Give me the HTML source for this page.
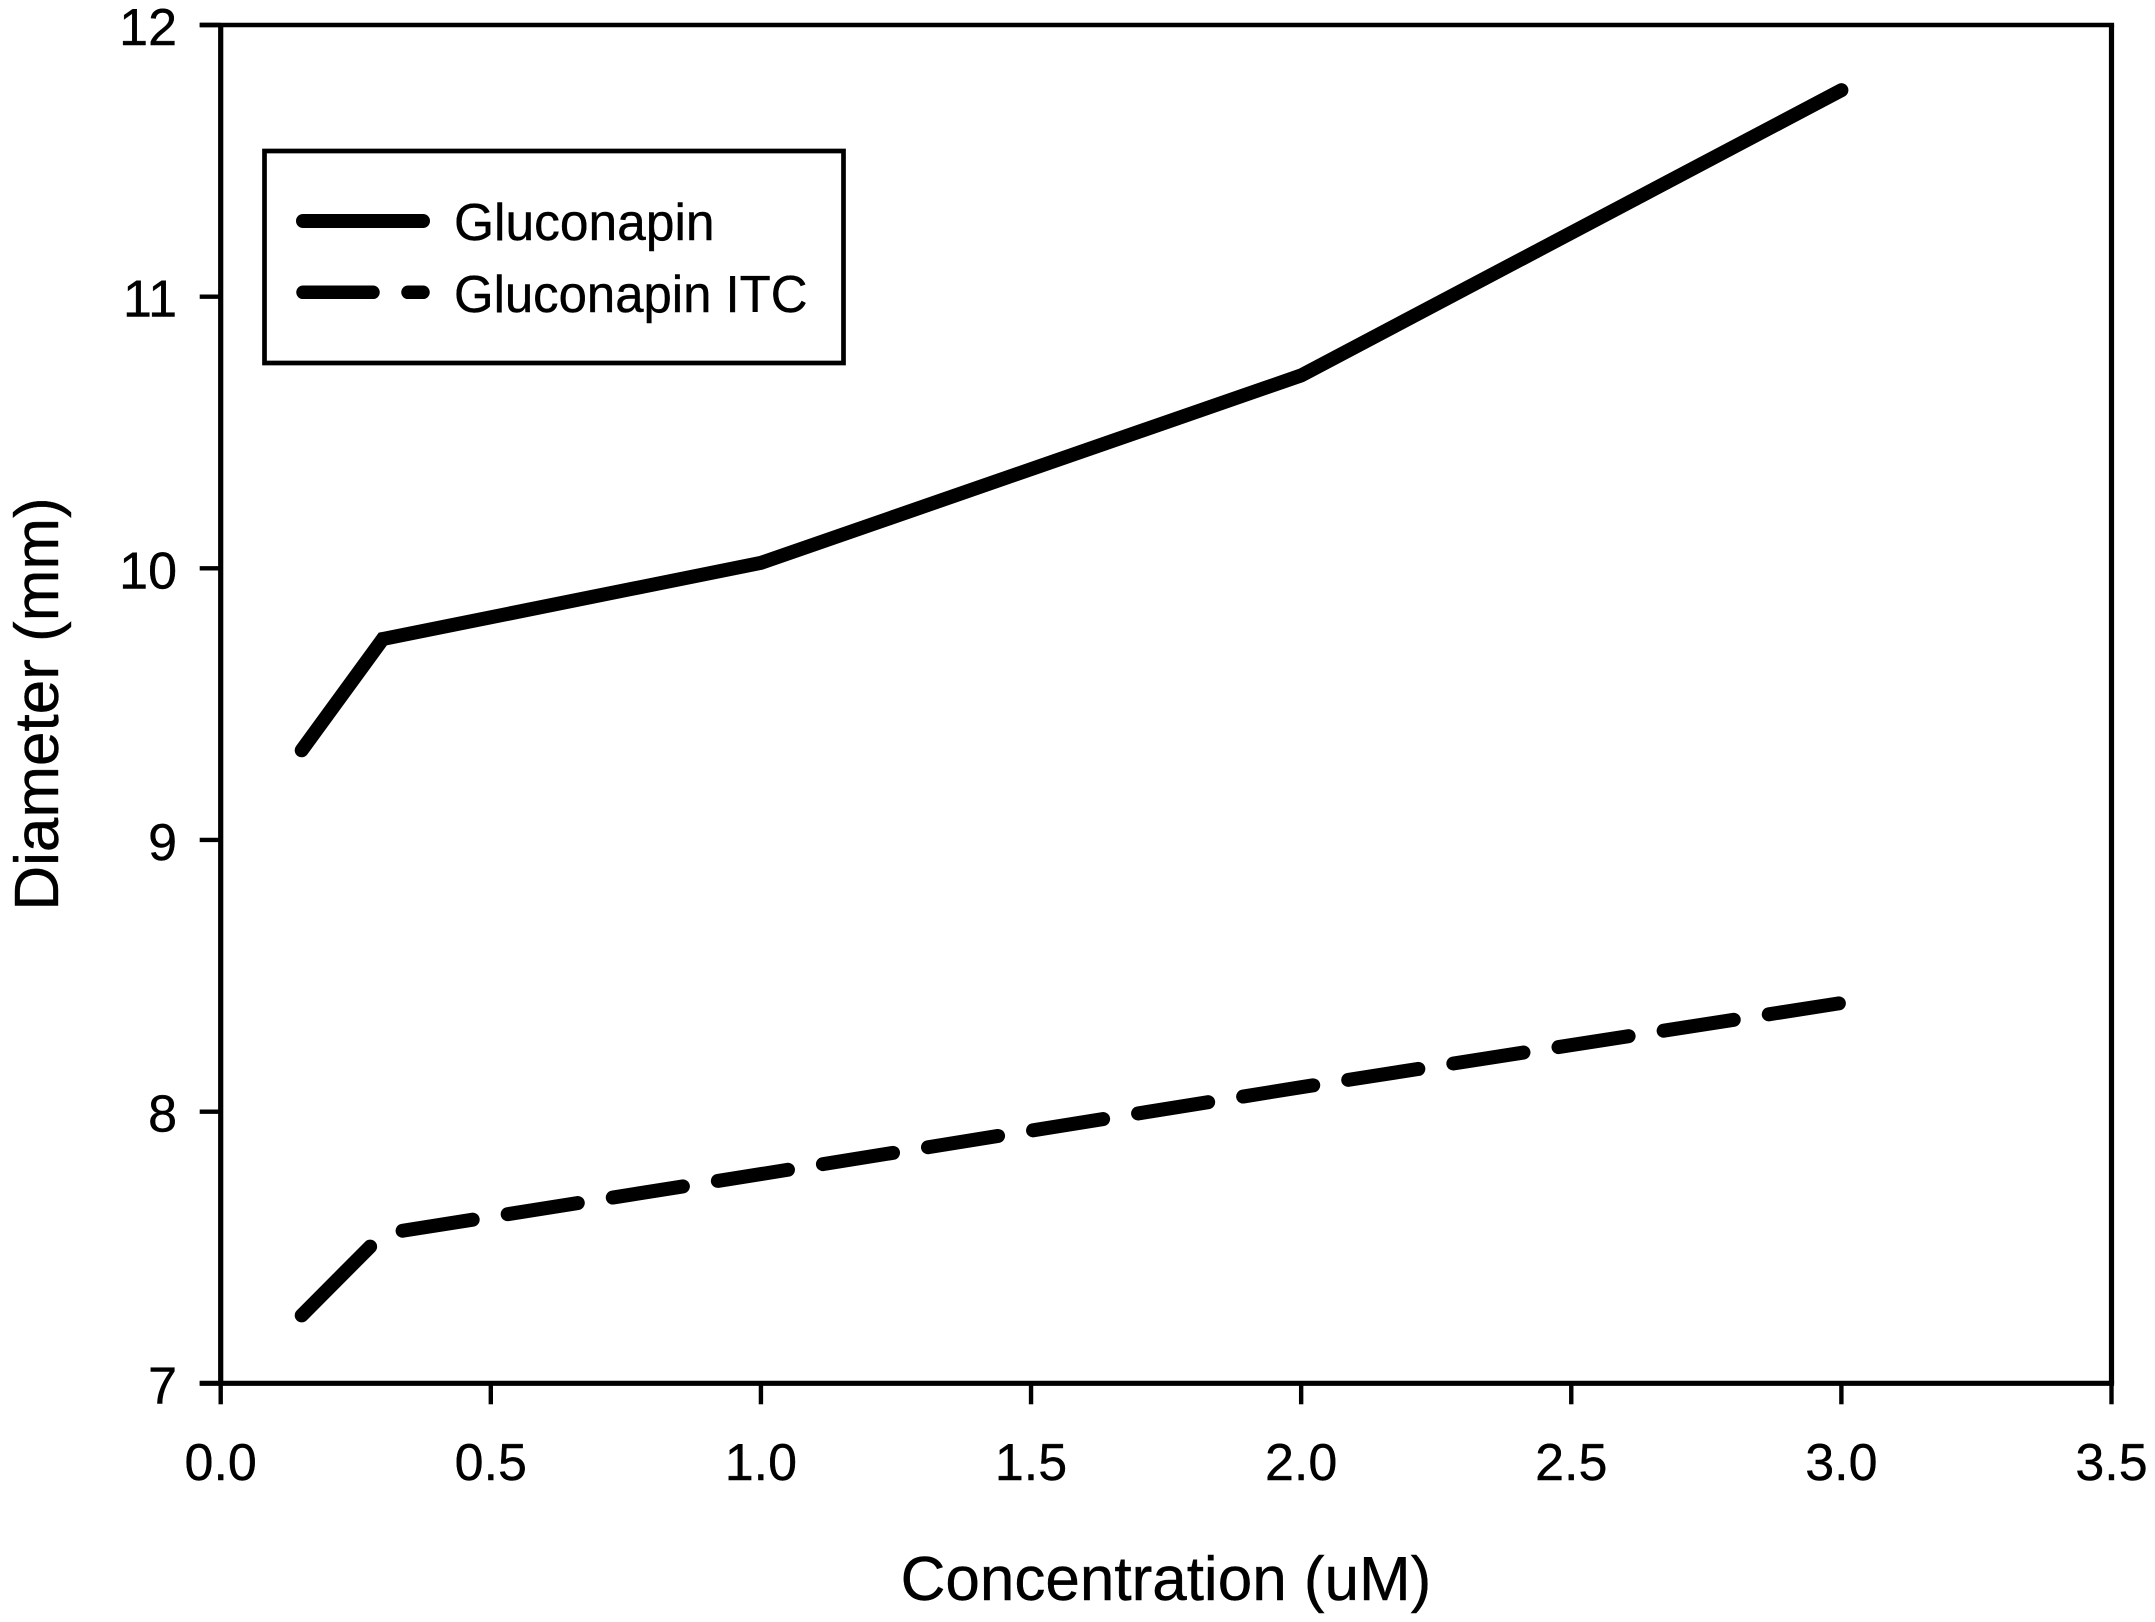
<!DOCTYPE html>
<html lang="en">
<head>
<meta charset="utf-8">
<title>Diameter vs Concentration</title>
<style>
html,body{margin:0;padding:0;background:#fff;}
svg{display:block;}
text{font-family:"Liberation Sans",Arial,sans-serif;fill:#000;stroke:#000;stroke-width:0.4;}
</style>
</head>
<body>
<svg id="chart" xmlns="http://www.w3.org/2000/svg" width="2155" height="1622" viewBox="0 0 2155 1622">
  <rect x="0" y="0" width="2155" height="1622" fill="#fff"/>
  <rect x="264.5" y="151" width="579" height="212" fill="#fff" stroke="#000" stroke-width="4.7"/>
  <line x1="303" y1="221" x2="423" y2="221" stroke="#000" stroke-width="14" stroke-linecap="round"/>
  <text x="454" y="240" font-size="51.5">Gluconapin</text>
  <line x1="303" y1="292.3" x2="373" y2="292.3" stroke="#000" stroke-width="13.5" stroke-linecap="round"/>
  <line x1="408" y1="292.3" x2="423" y2="292.3" stroke="#000" stroke-width="13.5" stroke-linecap="round"/>
  <text x="454" y="312" font-size="51.5" textLength="353.5" lengthAdjust="spacingAndGlyphs">Gluconapin ITC</text>
  <text transform="translate(58,704) rotate(-90)" text-anchor="middle" font-size="62">Diameter (mm)</text>
  <text x="1166" y="1600" text-anchor="middle" font-size="62">Concentration (uM)</text>
</svg>
<script>
const xTickValues = [0, 0.5, 1, 1.5, 2, 2.5, 3, 3.5];
const xTickLabels = ["0.0", "0.5", "1.0", "1.5", "2.0", "2.5", "3.0", "3.5"];
const yTickValues = [7, 8, 9, 10, 11, 12];
const yTickLabels = ["7", "8", "9", "10", "11", "12"];
const concentrations = [0.15, 0.3, 1, 2, 3];
const gluconapin = [9.33, 9.74, 10.02, 10.71, 11.76];
const gluconapinItc = [7.25, 7.55, 7.77, 8.09, 8.40];

const svg = document.getElementById('chart');
const NS = 'http://www.w3.org/2000/svg';
const plotLeft = 220.7, plotRight = 2111.5, plotTop = 25, plotBottom = 1383.3;
const xDomain = [0, 3.5], yDomain = [7, 12];

function xScale(v) {
  return plotLeft + (v - xDomain[0]) / (xDomain[1] - xDomain[0]) * (plotRight - plotLeft);
}
function yScale(v) {
  return plotBottom - (v - yDomain[0]) / (yDomain[1] - yDomain[0]) * (plotBottom - plotTop);
}
function make(tag, attrs) {
  const el = document.createElementNS(NS, tag);
  for (const k in attrs) el.setAttribute(k, attrs[k]);
  return el;
}

const topAxis = make('line', { x1: plotLeft - 21, x2: plotRight + 2.6, y1: plotTop, y2: plotTop, stroke: '#000', 'stroke-width': 4.4 });


svg.appendChild(topAxis);

const bottomAxis = make('line', { x1: plotLeft - 21, x2: plotRight + 2.6, y1: plotBottom, y2: plotBottom, stroke: '#000', 'stroke-width': 5.2 });


svg.appendChild(bottomAxis);

const leftAxis = make('line', { x1: plotLeft, x2: plotLeft, y1: plotTop, y2: plotBottom, stroke: '#000', 'stroke-width': 5.2 });


svg.appendChild(leftAxis);

const rightAxis = make('line', { x1: plotRight, x2: plotRight, y1: plotTop, y2: plotBottom, stroke: '#000', 'stroke-width': 5.2 });


svg.appendChild(rightAxis);

xTickValues.forEach(function (v, i) {
  const x = xScale(v);
  const tick = make('line', { x1: x, x2: x, y1: plotBottom, y2: plotBottom + 21, stroke: '#000', 'stroke-width': 4.4 });
  
  
  svg.appendChild(tick);
  const label = make('text', { x: x, y: 1480, 'text-anchor': 'middle', 'font-size': 52 });
  label.textContent = xTickLabels[i];
  
  
  svg.appendChild(label);
});

yTickValues.forEach(function (v, i) {
  const y = yScale(v);
  const tick = make('line', { x1: plotLeft, x2: plotLeft - 21, y1: y, y2: y, stroke: '#000', 'stroke-width': 4.4 });
  
  
  svg.appendChild(tick);
  const label = make('text', { x: 177, y: y + 20, 'text-anchor': 'end', 'font-size': 52 });
  label.textContent = yTickLabels[i];
  
  
  svg.appendChild(label);
});

function linePath(values) {
  return values.map(function (v, i) {
    return (i ? 'L' : 'M') + xScale(concentrations[i]).toFixed(1) + ' ' + yScale(v).toFixed(1);
  }).join('');
}

const solidLine = make('path', {
  d: linePath(gluconapin), fill: 'none', stroke: '#000', 'stroke-width': 14,
  'stroke-linecap': 'round', 'stroke-linejoin': 'miter'
});


svg.appendChild(solidLine);

let dashPattern = '97 38';
for (let i = 0; i < 30; i++) dashPattern += ' 71 35.4';
const dashedLine = make('path', {
  d: linePath(gluconapinItc), fill: 'none', stroke: '#000', 'stroke-width': 14,
  'stroke-linecap': 'round', 'stroke-linejoin': 'miter', 'stroke-dasharray': dashPattern
});


svg.appendChild(dashedLine);
</script>
</body>
</html>
